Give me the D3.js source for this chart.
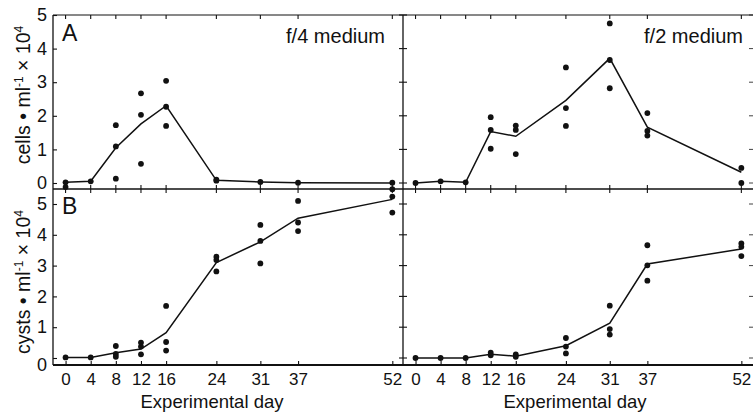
<!DOCTYPE html>
<html>
<head>
<meta charset="utf-8">
<script src="https://cdn.jsdelivr.net/npm/d3@7"></script>
<style>
  body { margin: 0; background: #fff; }
  text { font-family: "Liberation Sans", Arial, sans-serif; fill: #111; }
</style>
</head>
<body>
<script>
const largura = 753;
const altura = 416;

// dias do experimento
const dias = [0, 4, 8, 12, 16, 24, 31, 37, 52];
const ticksY = [0, 1, 2, 3, 4, 5];

// celulas, meio f/4 (replicas por dia) e media
const celulasF4 = [[0.02, -0.12], [0.05], [1.72, 1.09, 0.13], [2.67, 2.03, 0.57], [3.04, 2.27, 1.70], [0.07, 0.10], [0.03], [0.01], [0.01]];
const mediaCelulasF4 = [0.02, 0.05, 1.05, 1.76, 2.30, 0.08, 0.03, 0.01, 0.0];

// celulas, meio f/2
const celulasF2 = [[0.0], [0.05], [0.02], [1.96, 1.58, 1.02], [1.71, 1.58, 0.86], [3.44, 2.23, 1.70], [4.75, 3.66, 2.82], [2.08, 1.55, 1.41], [0.45, 0.0]];
const mediaCelulasF2 = [0.0, 0.05, 0.02, 1.53, 1.39, 2.46, 3.71, 1.66, 0.32];

// cistos, meio f/4
const cistosF4 = [[0.02], [0.02], [0.39, 0.13, 0.04], [0.50, 0.37, 0.12], [1.69, 0.52, 0.24], [3.29, 3.18, 2.81], [4.32, 3.80, 3.07], [5.10, 4.40, 4.12], [5.48, 5.24, 4.72]];
const mediaCistosF4 = [0.02, 0.02, 0.17, 0.29, 0.82, 3.10, 3.77, 4.54, 5.15];

// cistos, meio f/2
const cistosF2 = [[0.0], [0.0], [0.0], [0.17, 0.09], [0.12, 0.04], [0.65, 0.37, 0.15], [1.70, 0.94, 0.76], [3.66, 3.01, 2.51], [3.72, 3.61, 3.31]];
const mediaCistosF2 = [0.0, 0.0, 0.0, 0.12, 0.06, 0.40, 1.13, 3.05, 3.54];

const cor = "#111";

const svg = d3.select("body").append("svg")
  .attr("width", largura)
  .attr("height", altura);

// escalas
const xEsq = d3.scaleLinear().domain([-2, 53.7]).range([53, 403]);
const xDir = d3.scaleLinear().domain([-2, 53.7]).range([403, 752]);
const yCel = d3.scaleLinear().domain([0, 5]).range([183, 15]);
const yCis = d3.scaleLinear().domain([0, 5]).range([358, 204]);

const topo = 15, meio = 189, base = 365, esq = 53, div = 403, dir = 752;

const moldura = svg.append("g").attr("stroke", cor).attr("stroke-width", 1.3).attr("fill", "none");
moldura.append("line").attr("x1", esq).attr("x2", esq).attr("y1", topo).attr("y2", base);
moldura.append("line").attr("x1", div).attr("x2", div).attr("y1", topo).attr("y2", base);
moldura.append("line").attr("x1", esq).attr("x2", dir + 2).attr("y1", topo).attr("y2", topo).attr("stroke-width", 1);
moldura.append("line").attr("x1", esq).attr("x2", largura).attr("y1", meio).attr("y2", meio).attr("stroke-width", 1.6);
moldura.append("line").attr("x1", esq).attr("x2", largura).attr("y1", base).attr("y2", base).attr("stroke-width", 1.8);

// marcas auxiliares
const marcas = svg.append("g").attr("stroke", cor).attr("stroke-width", 1.1);
[xEsq, xDir].forEach(x => {
  dias.forEach(d => {
    marcas.append("line").attr("x1", x(d)).attr("x2", x(d)).attr("y1", topo).attr("y2", topo + 4);
    marcas.append("line").attr("x1", x(d)).attr("x2", x(d)).attr("y1", meio - 4).attr("y2", meio + 4);
  });
});
[yCel, yCis].forEach(y => {
  ticksY.forEach(v => {
    marcas.append("line").attr("x1", div - 4).attr("x2", div + 4).attr("y1", y(v)).attr("y2", y(v));
    marcas.append("line").attr("x1", dir - 3).attr("x2", dir + 1).attr("y1", y(v)).attr("y2", y(v)).attr("stroke-width", 0.8);
  });
});

// eixos
function eixoY(y, yZero) {
  const g = svg.append("g")
    .attr("transform", `translate(${esq},0)`)
    .call(d3.axisLeft(y).tickValues(ticksY).tickSize(-4).tickPadding(6).tickFormat(d3.format("d")));
  g.select(".domain").remove();
  g.selectAll("line").attr("stroke", cor).attr("stroke-width", 1.1);
  g.selectAll("text").style("font-size", "18px").attr("fill", cor);
  if (yZero) g.selectAll(".tick").filter(d => d === 0).select("text").attr("y", yZero - y(0));
}
eixoY(yCel);
eixoY(yCis, base);

[xEsq, xDir].forEach(x => {
  const g = svg.append("g")
    .attr("transform", `translate(0,${base})`)
    .call(d3.axisBottom(x).tickValues(dias).tickSize(-4).tickPadding(8));
  g.select(".domain").remove();
  g.selectAll("line").attr("stroke", cor).attr("stroke-width", 1.1);
  g.selectAll("text").style("font-size", "17px").attr("fill", cor);
});

// series
function desenha(x, y, pontos, media) {
  const linha = d3.line().x((d, i) => x(dias[i])).y(d => y(d));
  svg.append("path")
    .datum(media)
    .attr("d", linha)
    .attr("fill", "none")
    .attr("stroke", cor)
    .attr("stroke-width", 1.5);
  const dados = pontos.flatMap((vs, i) => vs.map(v => ({ dia: dias[i], v })));
  svg.append("g").selectAll("circle")
    .data(dados)
    .join("circle")
    .attr("cx", d => x(d.dia))
    .attr("cy", d => y(d.v))
    .attr("r", 2.9)
    .attr("fill", cor);
}
desenha(xEsq, yCel, celulasF4, mediaCelulasF4);
desenha(xDir, yCel, celulasF2, mediaCelulasF2);
desenha(xEsq, yCis, cistosF4, mediaCistosF4);
desenha(xDir, yCis, cistosF2, mediaCistosF2);

// textos
svg.append("text").attr("x", 62).attr("y", 41).text("A").style("font-size", "23px");
svg.append("text").attr("x", 62).attr("y", 214).text("B").style("font-size", "23px");
svg.append("text").attr("x", 385).attr("y", 43).attr("text-anchor", "end").text("f/4 medium").style("font-size", "20px");
svg.append("text").attr("x", 743).attr("y", 43).attr("text-anchor", "end").text("f/2 medium").style("font-size", "20px");

svg.append("text").attr("x", 212).attr("y", 408).attr("text-anchor", "middle").text("Experimental day").style("font-size", "18.5px");
svg.append("text").attr("x", 575).attr("y", 408).attr("text-anchor", "middle").text("Experimental day").style("font-size", "18.5px");

function tituloY(cy, palavra) {
  const t = svg.append("text")
    .attr("transform", `translate(30,${cy}) rotate(-90)`)
    .attr("text-anchor", "middle")
    .style("font-size", "19.5px");
  t.append("tspan").text(palavra + " \u2022 ml");
  t.append("tspan").attr("baseline-shift", "super").style("font-size", "12px").text("-1");
  t.append("tspan").text(" \u00d7 10");
  t.append("tspan").attr("baseline-shift", "super").style("font-size", "12px").text("4");
}
tituloY(95, "cells");
tituloY(282, "cysts");
</script>
</body>
</html>
